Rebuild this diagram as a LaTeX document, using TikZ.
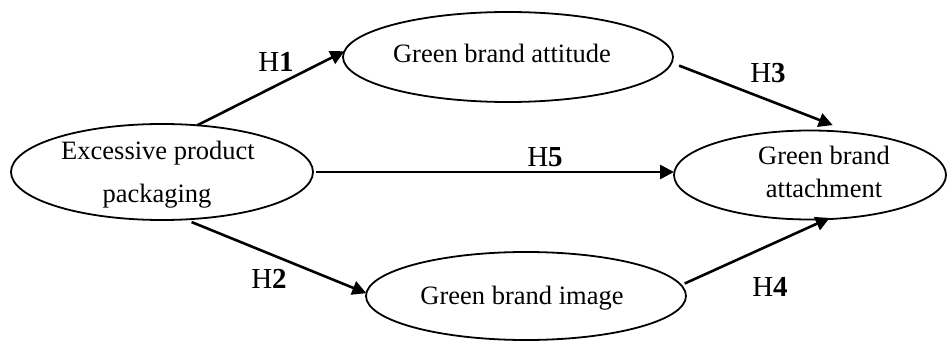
\documentclass[tikz,border=0pt]{standalone}
\usepackage{fontspec}
\setmainfont{Liberation Serif}
\usetikzlibrary{arrows.meta,shapes.geometric}

\tikzset{
  construct/.style={ellipse, draw, line width=1.8pt, inner sep=0pt, outer sep=0pt},
  body/.style={anchor=base, inner sep=0pt, font=\fontsize{26.5}{30}\selectfont},
  hyp/.style={anchor=base, inner sep=0pt, font=\fontsize{29}{32}\selectfont},
  arr/.style={line width=2.6pt, -{Triangle[length=14pt,width=14pt]}},
}

\begin{document}
\begin{tikzpicture}[x=1pt,y=1pt]
  \useasboundingbox (0,0) rectangle (947,343);

  % constructs
  \node[construct, minimum width=302pt, minimum height=96pt] (pkg)    at (162,171) {};
  \node[construct, minimum width=330pt, minimum height=90pt] (att)    at (508,286) {};
  \node[construct, minimum width=272pt, minimum height=89pt] (attach) at (810,168) {};
  \node[construct, minimum width=320pt, minimum height=88pt] (img)    at (526,47)  {};

  % construct names
  \node[body] (pkgA)    at (158,183) {Excessive product};
  \node[body] (pkgB)    at (157,140) {packaging};
  \node[body] (attT)    at (502,280) {Green brand attitude};
  \node[body] (attachA) at (824,178) {Green brand};
  \node[body] (attachB) at (824,146) {attachment};
  \node[body] (imgT)    at (522,39)  {Green brand image};

  % hypothesised paths
  \draw[arr] (pkg.53) -- (att.178);
  \draw[arr, shorten <=8pt, shorten >=21pt] (att.-2) -- (attach.45);
  \draw[arr, shorten <=3pt] (pkg.east) -- (pkg.east -| attach.west);
  \draw[arr, shorten <=7pt] (pkg.-64) -- (img.179);
  \draw[arr, shorten <=4pt, shorten >=-3pt] (img.4) -- (attach.-69);

  % path labels
  \node[hyp] (h1) at (276,271) {H\textbf{1}};
  \node[hyp] (h2) at (269,55)  {H\textbf{2}};
  \node[hyp] (h3) at (768,260) {H\textbf{3}};
  \node[hyp] (h4) at (770,47)  {H\textbf{4}};
  \node[hyp] (h5) at (545,176) {H\textbf{5}};
\end{tikzpicture}
\end{document}
